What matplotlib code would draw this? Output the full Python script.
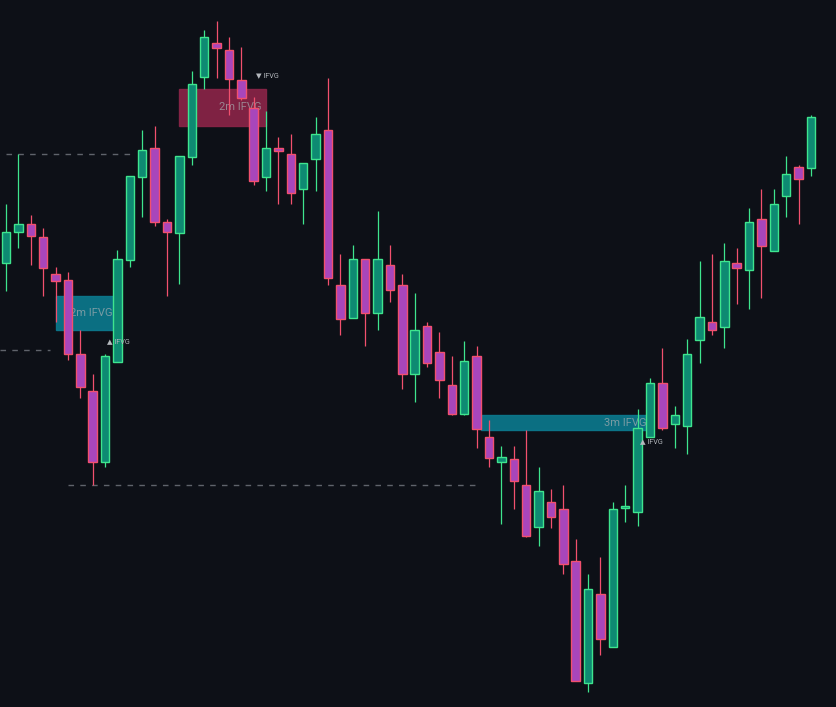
import matplotlib
matplotlib.use("Agg")
import matplotlib.pyplot as plt
from matplotlib.patches import Rectangle
import numpy as np

# palette
BG = "#0d1017"
BULL_BODY = "#0e8a72"
BULL_EDGE = "#3ee58e"
BEAR_BODY = "#a846bb"
BEAR_EDGE = "#f2506e"
TEAL_BOX = "#0b7a8f"
RED_BOX = "#8c2548"
LEVEL = "#5f636b"

# OHLC (price units)
opens = [444, 475, 483, 470, 433, 427, 353, 316, 245, 345, 447, 530, 559, 485, 474, 550,
         630, 664, 657, 627, 599, 530, 559, 553, 518, 548, 577, 422, 389, 448, 394, 442,
         422, 333, 381, 355, 322, 293, 351, 270, 245, 248, 222, 180, 205, 198, 146, 24,
         113, 60, 199.5, 195, 270, 324, 283, 281, 367, 385, 380, 444, 437, 488, 456, 511,
         540, 539]
highs = [503, 553, 492, 479, 440, 435, 377, 333, 353, 457, 531, 577, 581, 488, 551, 636,
         677, 686, 670, 660, 610, 596, 570, 573, 544, 590, 629, 453, 462, 448, 496, 462,
         433, 414, 385, 375, 351, 366, 361, 287, 261, 261, 277, 240, 218, 222, 168, 133,
         150, 205, 222, 298, 329, 359, 301, 368, 446, 453, 464, 459, 499, 518, 518, 551,
         542, 592]
lows = [416, 459, 442, 411, 385, 347, 309, 222, 240, 345, 440, 490, 481, 411, 423, 542,
        618, 629, 592, 607, 522, 516, 503, 503, 483, 516, 422, 372, 389, 361, 377, 405,
        318, 305, 340, 309, 292, 292, 259, 240, 183, 198, 170, 161, 179, 133, 26, 15,
        52, 60, 185, 181, 270, 277, 259, 253, 344, 372, 359, 403, 398, 409, 456, 490,
        483, 531]
closes = [475, 483, 471, 439, 426, 353, 320, 245, 351, 448, 531, 557, 485, 475, 551, 623,
          670, 659, 628, 609, 526, 559, 556, 514, 544, 573, 429, 388, 448, 394, 448, 417,
          333, 377, 344, 327, 293, 346, 278, 249, 250, 226, 171, 216, 190, 143, 26, 118,
          68, 198, 200, 279, 324, 279, 292, 353, 390, 377, 446, 439, 485, 461, 503, 533,
          528, 590]

# liquidity levels: price, start bar, end bar
level_prices = [553, 357, 222]
level_start = [0, -0.5, 5]
level_end = [10, 3.55, 38]

# IFVG zones: bottom, top, start bar, end bar, label
zone_bottom = [377, 581, 277]
zone_top = [411, 618, 292]
zone_start = [4, 14, 38.35]
zone_end = [9, 21, 52.1]
zone_label = ["2m IFVG", "2m IFVG", "3m IFVG"]
zone_color = [TEAL_BOX, RED_BOX, TEAL_BOX]

# small signal tags
tag_x = [21.1, 9.05, 52.1]
tag_y = [631, 365, 265]
tag_text = ["\u25bc IFVG", "\u25b2 IFVG", "\u25b2 IFVG"]

plt.rcParams["lines.scale_dashes"] = False

fig = plt.figure(figsize=(8.36, 7.07), dpi=100, facecolor=BG)
ax = fig.add_axes([0, 0, 1, 1], facecolor=BG)

# zones first, candles on top
for b, t, x0, x1, lab, col in zip(zone_bottom, zone_top, zone_start, zone_end, zone_label, zone_color):
    ax.add_patch(Rectangle((x0, b), x1 - x0, t - b, facecolor=col, edgecolor=col,
                           alpha=0.9, linewidth=1.0, zorder=1))
    ax.text(x1 - 0.35, (b + t) / 2, lab, ha="right", va="center", fontsize=8,
            color="#a7aeb2", alpha=0.7, zorder=1.5,
            family=["Liberation Sans Narrow", "Roboto", "DejaVu Sans"])

for p, x0, x1 in zip(level_prices, level_start, level_end):
    ax.plot([x0, x1], [p, p], color=LEVEL, linewidth=1.0, linestyle=(0, (4, 4.5)), zorder=1)

w = 0.68
for i, (o, h, l, c) in enumerate(zip(opens, highs, lows, closes)):
    up = c >= o
    edge = BULL_EDGE if up else BEAR_EDGE
    body = BULL_BODY if up else BEAR_BODY
    ax.plot([i, i], [l, h], color=edge, linewidth=0.9, zorder=2, solid_capstyle="butt")
    lo, hi = min(o, c), max(o, c)
    ax.add_patch(Rectangle((i - w / 2, lo), w, max(hi - lo, 1.5), facecolor=body,
                           edgecolor=edge, linewidth=1.0, zorder=3))

for x, y, s in zip(tag_x, tag_y, tag_text):
    ax.text(x, y, s, ha="center", va="center", fontsize=5.2, color="#b4b8bd", zorder=4,
            family=["Roboto", "DejaVu Sans"])

ax.set_xlim(-0.484, 67.02)
ax.set_ylim(0, 707)
ax.axis("off")

fig.savefig("out.png", dpi=100, facecolor=BG)
